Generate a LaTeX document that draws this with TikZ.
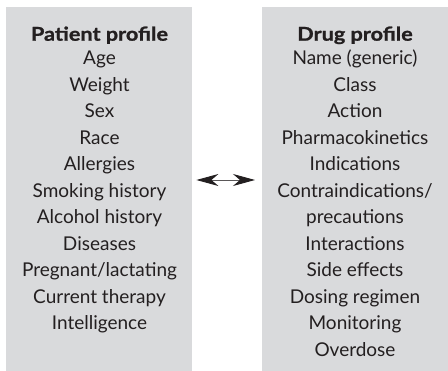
\documentclass[tikz,border=0pt]{standalone}
\usepackage{fontspec}
\setmainfont{Lato}
\newfontfamily\headfont{Lato Bold}[FakeBold=1.2,FakeStretch=1.14]
\usetikzlibrary{arrows.meta}
\definecolor{boxgray}{HTML}{D9DADC}
\definecolor{ink}{HTML}{231F20}
\tikzset{
  panel/.style={fill=boxgray, draw=none, minimum width=186pt, minimum height=364pt, anchor=north west, inner sep=0pt},
  line/.style={anchor=base, inner sep=0pt, text=ink, font=\fontsize{19}{23}\selectfont},
  head/.style={line, font=\fontsize{19}{23}\headfont},
  link/.style={draw=ink!75, line width=0.9pt, {Stealth[length=22pt,width=12pt,inset=7pt,color=ink,fill=ink]}-{Stealth[length=22pt,width=12pt,inset=7pt,color=ink,fill=ink]}}
}
\begin{document}
\begin{tikzpicture}[x=1pt,y=-1pt]
\useasboundingbox (0,0) rectangle (448,371);
\node[panel] (L) at (6,7) {};
\node[panel] (R) at (262,7) {};
\node[head] (Lh) at (99.5,40.7) {Patient profile};
\foreach \t [count=\i] in {Age,Weight,Sex,Race,Allergies,Smoking history,Alcohol history,Diseases,Pregnant/lactating,Current therapy,Intelligence}
  \node[line] (L\i) at (99.5,{65+(\i-1)*26.5}) {\t};
\node[head] (Rh) at (355,40.7) {Drug profile};
\foreach \t [count=\i] in {Name (generic),Class,Action,Pharmacokinetics,Indications,Contraindications/,precautions,Interactions,Side effects,Dosing regimen,Monitoring,Overdose}
  \node[line] (R\i) at (355,{65+(\i-1)*26.5}) {\t};
\coordinate (ay) at (0,180);
\draw[link, shorten <=4pt, shorten >=7pt] (L.east |- ay) -- (R.west |- ay);
\end{tikzpicture}
\end{document}
